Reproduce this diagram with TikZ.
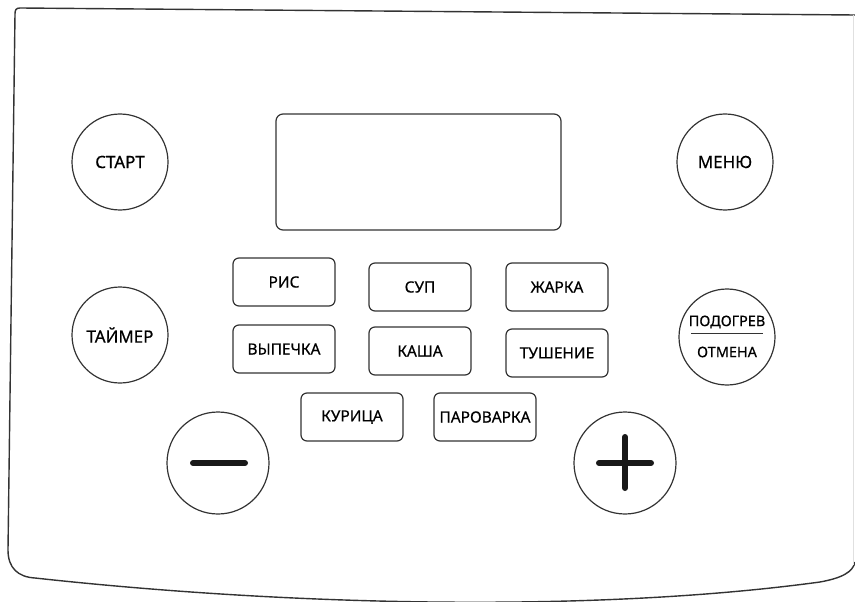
\documentclass[tikz,border=0pt]{standalone}
\usepackage{fontspec}
\setmainfont{Noto Sans}
\newfontfamily\panelfont{Noto Sans}[FakeBold=0.6]
\usepackage{tikz}
\usetikzlibrary{positioning}
\tikzset{
x=1bp, y=-1bp, % one unit is one pixel of the panel, y runs down
panel/.style={line width=1.4bp, draw=black!80}, % the outline of the panel
knob/.style={circle, draw=black!80, line width=1.2bp, minimum size=96bp, inner sep=0pt, font=\panelfont\fontsize{17}{20}\selectfont}, % round keys
mode/.style={rectangle, rounded corners=6bp, draw=black!80, line width=1.2bp, minimum width=102bp, minimum height=48bp, inner sep=0pt, font=\panelfont\fontsize{15.5}{18}\selectfont}, % programme keys
sign/.style={line width=6bp, line cap=round, black!90}, % the plus and minus marks
}

\begin{document}
\begin{tikzpicture}
                \useasboundingbox (0,0) rectangle (855,602);

                % outline of the panel
                \draw[panel] (855,15) -- (20,8) .. controls (16,8) and (15,10) .. (15,14)
                    -- (8,550) .. controls (8,568) and (18,577) .. (35,578)
                    .. controls (300,607) and (600,612) .. (820,582)
                    .. controls (842,578) and (853,572) .. (855,562);
                \draw[black!12, line width=0.8bp] (853,15) -- (853,565);

                % display
                \node[draw=black!80, line width=1.2bp, rounded corners=7bp, minimum width=285bp, minimum height=116bp] (screen) at (418.5,172) {};

                % round keys
                \node[knob] (start) at (120,162) {СТАРТ};
                \node[knob] (menu) at (725,162) {МЕНЮ};
                \node[knob] (timer) at (120,335) {ТАЙМЕР};
                \node[knob] (warm) at (727,337) {};
                \node[font=\panelfont\fontsize{14.5}{17}\selectfont] (warmup) at (727,322) {ПОДОГРЕВ};
                \node[font=\panelfont\fontsize{14.5}{17}\selectfont] (cancel) at (727,352) {ОТМЕНА};
                \draw[black!80, line width=0.8bp] ([xshift=-36bp,yshift=4bp]warm.center) -- ([xshift=36bp,yshift=4bp]warm.center);
                \node[knob, minimum size=102bp] (minus) at (218,463) {};
                \node[knob, minimum size=102bp] (plus) at (625,463) {};
                \draw[sign] ([xshift=-25bp]minus.center) -- ([xshift=27bp]minus.center);
                \draw[sign] ([xshift=-26bp]plus.center) -- ([xshift=26bp]plus.center);
                \draw[sign] ([yshift=26bp]plus.center) -- ([yshift=-25bp]plus.center);

                % programme keys
                \node[mode] (rice) at (284,282) {РИС};
                \node[mode] (soup) at (420,287) {СУП};
                \node[mode] (fry) at (557,287) {ЖАРКА};
                \node[mode] (bake) at (284,349) {ВЫПЕЧКА};
                \node[mode] (porridge) at (420,351) {КАША};
                \node[mode] (stew) at (557,353) {ТУШЕНИЕ};
                \node[mode] (chicken) at (352,417) {КУРИЦА};
                \node[mode] (steam) at (485,417) {ПАРОВАРКА};
            \end{tikzpicture}
\end{document}
